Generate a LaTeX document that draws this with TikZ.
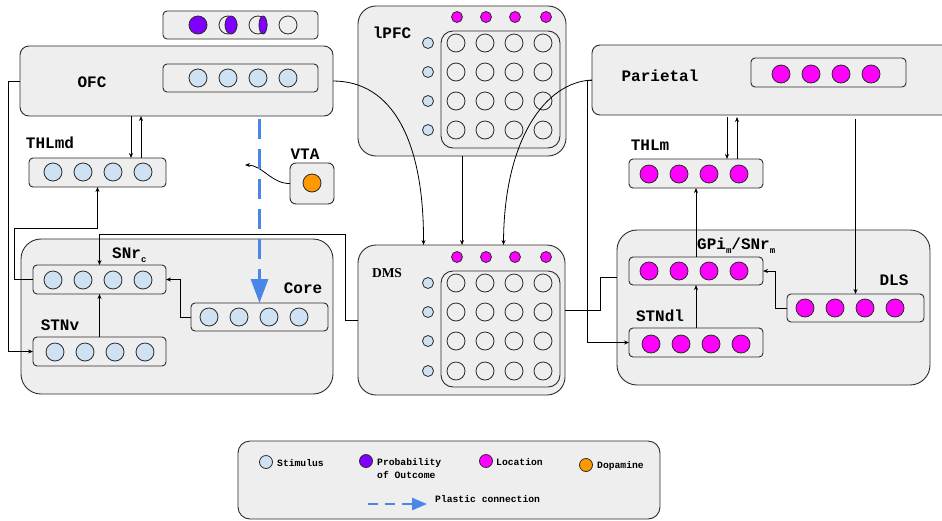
\documentclass[tikz,border=0pt]{standalone}
\usepackage{fontspec}
\setmainfont{Liberation Mono}
\newfontfamily\slabfont{Liberation Serif}
\usetikzlibrary{arrows.meta,calc,shapes.geometric}
\definecolor{boxgray}{HTML}{EEEEEE}
\definecolor{stim}{HTML}{CFE2F3}
\definecolor{loc}{HTML}{FF00FF}
\definecolor{prob}{HTML}{7F00FF}
\definecolor{dopa}{HTML}{FF9900}
\definecolor{plast}{HTML}{4A86E8}
\definecolor{edge}{HTML}{2B2B2B}
\newcommand{\rbox}[6]{\node[box, rounded corners=#6pt, minimum width={(#4)-(#2)}, minimum height={(#5)-(#3)}] (#1) at ({((#2)+(#4))/2},{((#3)+(#5))/2}) {};}
\newcommand{\crow}[4]{\foreach \k [count=\n] in {#2} \node[circ, fill=#4] (#1\n) at (\k,#3) {};}
\newcommand{\subm}[1]{\raisebox{-4pt}{\fontsize{9}{9}\selectfont #1}}
\begin{document}
\begin{tikzpicture}[x=1pt,y=-1pt,
  box/.style={draw=edge, fill=boxgray, line width=0.9pt, inner sep=0pt, outer sep=0pt},
  circ/.style={circle, draw=edge, line width=0.8pt, minimum size=18pt, inner sep=0pt, outer sep=0pt},
  ell/.style={ellipse, draw=edge, line width=0.8pt, inner sep=0pt, outer sep=0pt, minimum height=18pt},
  smallc/.style={circ, minimum size=11pt},
  lbl/.style={font=\bfseries\fontsize{16}{16}\selectfont, inner sep=0pt},
  leg/.style={font=\bfseries\fontsize{9.7}{11}\selectfont, inner sep=0pt, anchor=west},
  arr/.style={draw=black, line width=0.8pt, -{Stealth[length=5pt,width=4pt]}},
  plainline/.style={draw=black, line width=0.8pt},
  plastic/.style={draw=plast, line width=3pt, dash pattern=on 20pt off 10pt, -{Triangle[length=24pt,width=17pt]}},
  plasticleg/.style={draw=plast, line width=2.5pt, dash pattern=on 10pt off 7pt, -{Triangle[length=15pt,width=12pt]}}
]
\useasboundingbox (0,0) rectangle (942,520);

% ---------- containers ----------
\rbox{BGL}{21}{239}{333}{394}{20}
\rbox{BGR}{617}{230}{930}{385}{20}
\rbox{OFC}{20}{46}{333}{116}{9}
\rbox{Parietal}{592}{45}{960}{115}{8}
\rbox{lPFC}{358}{6}{566}{156}{18}
\rbox{DMS}{358}{245}{565}{395}{18}
\rbox{Legend}{238}{441}{660}{519}{12}

% ---------- inner boxes ----------
\rbox{Prob}{163}{11}{318}{39}{4}
\rbox{OFCrow}{163}{64}{318}{92}{4}
\rbox{THLmd}{29}{158}{166}{187}{4}
\rbox{VTA}{290}{163}{334}{204}{6}
\rbox{lPFCgrid}{441}{31}{560}{148}{12}
\rbox{DMSgrid}{441}{271}{560}{387}{12}
\rbox{Parrow}{751}{58}{906}{87}{4}
\rbox{THLm}{629}{159}{763}{188}{4}
\rbox{GPi}{629}{257}{763}{285}{4}
\rbox{DLS}{787}{294}{924}{322}{4}
\rbox{STNdl}{629}{328}{763}{357}{4}
\rbox{SNrc}{33}{265}{166}{294}{4}
\rbox{Core}{191}{303}{328}{331}{4}
\rbox{STNv}{33}{337}{166}{366}{4}

% ---------- circles ----------
\node[circ, fill=prob] (pb1) at (198,25) {};
\node[circ] (pb2) at (228,25) {};
\node[ell, minimum width=12pt, fill=prob] (pb2e) at (231,25) {};
\node[circ] (pb3) at (258,25) {};
\node[ell, minimum width=8pt, fill=prob] (pb3e) at (263,25) {};
\node[circ] (pb4) at (288,25) {};

\crow{ofc}{198,228,258,288}{78}{stim}
\crow{thlmd}{53,83,113,143}{172}{stim}
\node[circ, fill=dopa] (vtac) at (312,183) {};
\crow{par}{781,811,841,871}{74}{loc}
\crow{thlm}{649,679,709,739}{174}{loc}
\crow{gpi}{649,679,709,739}{271}{loc}
\crow{dls}{805,835,865,895}{308}{loc}
\crow{stndl}{651,681,711,741}{344}{loc}
\crow{snrc}{53,83,113,143}{280}{stim}
\crow{core}{209,239,269,299}{317}{stim}
\crow{stnv}{55,85,115,145}{352}{stim}

\foreach \x [count=\i] in {457,486,515,546} {
  \node[smallc, fill=loc] (lpt\i) at (\x,17) {};
  \node[smallc, fill=loc] (dmt\i) at (\x,257) {};
}
\foreach \y [count=\j] in {43,72,101,130} {
  \node[smallc, fill=stim] (lps\j) at (428,\y) {};
  \foreach \x [count=\i] in {456,485,514,543} \node[circ] (lpg\i\j) at (\x,\y) {};
}
\foreach \y [count=\j] in {283,312,341,371} {
  \node[smallc, fill=stim] (dms\j) at (428,\y) {};
  \foreach \x [count=\i] in {456,485,514,543} \node[circ] (dmg\i\j) at (\x,\y) {};
}

% ---------- labels ----------
\node[lbl] (tOFC) at (92,82) {OFC};
\node[lbl] (tTHLmd) at (50,143) {THLmd};
\node[lbl] (tVTA) at (305,154) {VTA};
\node[lbl] (tlPFC) at (392,33) {lPFC};
\node[lbl] (tPar) at (660,76) {Parietal};
\node[lbl] (tTHLm) at (650,145) {THLm};
\node[lbl, anchor=base west] (tGPi) at (697,249) {GPi\subm{m}/SNr\subm{m}};
\node[lbl] (tDLS) at (894,280) {DLS};
\node[lbl] (tSTNdl) at (660,316) {STNdl};
\node[lbl, anchor=base west] (tSNrc) at (112,258) {SNr\subm{c}};
\node[lbl] (tCore) at (303,288) {Core};
\node[lbl] (tSTNv) at (60,325) {STNv};
\node[font=\slabfont\bfseries\fontsize{13.5}{13.5}\selectfont, inner sep=0pt] (tDMS) at (387,273) {DMS};

% ---------- connectors ----------
\draw[arr] (OFC.west) -- ++(-12,0) |- (STNv.west);
\coordinate (k1) at (14,228);
\draw[arr] (SNrc.west) -| (k1) -| (THLmd.south);
\coordinate (k2) at (345,234);
\draw[arr] (DMS.west) -| (k2) -| (SNrc.north);
\coordinate (d1) at ($(DMS.north)+(-38,0)$);
\draw[arr] (OFC.east) .. controls (392,81) and (424,140) .. (d1);
\draw[arr] (lPFC.south) -- (lPFC.south |- DMS.north);
\coordinate (d3) at ($(DMS.north)+(42,0)$);
\draw[arr] (Parietal.west) .. controls (545,82) and (504,140) .. (d3);
\draw[arr] (Parietal.west) -- ++(-5,0) |- (STNdl.west);
\coordinate (k3) at (600,277);
\draw[plainline] ([yshift=10pt]DMS.east) -| (k3) -- (k3 -| BGR.west);
\draw[arr] (GPi.north) -- (THLm.south);
\coordinate (a1) at ([xshift=33.5pt]THLmd.north);
\coordinate (a2) at ([xshift=43.5pt]THLmd.north);
\draw[arr] (a1 |- OFC.south) -- (a1);
\draw[arr] (a2) -- (a2 |- OFC.south);
\coordinate (b1) at ([xshift=31pt]THLm.north);
\coordinate (b2) at ([xshift=41pt]THLm.north);
\draw[arr, shorten <=2pt] (b1 |- Parietal.south) -- (b1);
\draw[arr, shorten >=2pt] (b2) -- (b2 |- Parietal.south);
\draw[arr, shorten <=4pt] (Parietal.south -| DLS.north) -- (DLS.north);
\draw[arr] (DLS.west) -- ++(-12,0) |- (GPi.east);
\draw[arr] (STNdl.north) -- (GPi.south);
\draw[arr] (STNv.north) -- (SNrc.south);
\draw[arr] (Core.west) -- ++(-11,0) |- (SNrc.east);
\coordinate (v1) at (245,165);
\draw[arr] (VTA.west) .. controls (272,184) and (262,165) .. (v1);
\coordinate (p0) at (OFC.south -| Core.north);
\draw[plastic] ([yshift=-3pt]p0) -- (Core.north);

% ---------- legend ----------
\node[circ, minimum size=13pt, fill=stim] (ls) at (266,462) {};
\node[leg] (lst) at (277,463) {Stimulus};
\node[circ, minimum size=13pt, fill=prob] (lp) at (366,461) {};
\node[leg] (lpt) at (377,463) {Probability};
\node[leg] (lpt2) at (377,475) {of Outcome};
\node[circ, minimum size=13pt, fill=loc] (ll) at (486,461) {};
\node[leg] (llt) at (496,462) {Location};
\node[circ, minimum size=13pt, fill=dopa] (ld) at (586,465) {};
\node[leg] (ldt) at (597,466) {Dopamine};
\coordinate (lg1) at (368,504);
\coordinate (lg2) at (427,504);
\draw[plasticleg] (lg1) -- (lg2);
\node[leg] (lgt) at (435,499) {Plastic connection};
\end{tikzpicture}
\end{document}
